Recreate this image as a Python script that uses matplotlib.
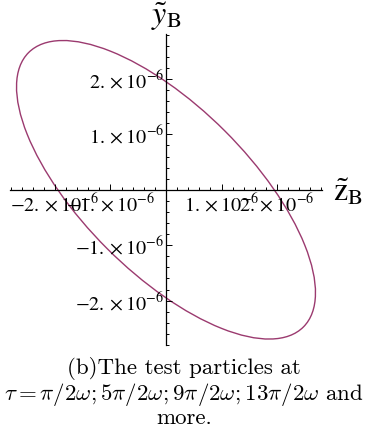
import numpy as np
import matplotlib
matplotlib.use("Agg")
import matplotlib.pyplot as plt
from matplotlib.patches import Ellipse
from matplotlib.ticker import FixedLocator

# orbit of the test particles in the (z_B, y_B) plane
semi_major = 3.50e-6
semi_minor = 1.50e-6
tilt_deg = -45.0
center = (0.0, 0.0)

major_ticks = [-2e-6, -1e-6, 1e-6, 2e-6]
tick_labels = [r"$-2.\times10^{-6}$", r"$-1.\times10^{-6}$",
               r"$1.\times10^{-6}$", r"$2.\times10^{-6}$"]
minor_ticks = np.round(np.arange(-2.8, 2.81, 0.2), 1) * 1e-6

W, H = 368, 433
fig = plt.figure(figsize=(W / 100, H / 100), dpi=100)
ax = fig.add_axes([10 / W, (H - 345) / H, 312 / W, 311 / H])

ax.add_patch(Ellipse(center, 2 * semi_major, 2 * semi_minor, angle=tilt_deg,
                     fill=False, edgecolor="#9b3a6f", linewidth=1.0))

ax.set_xlim(-2.81e-6, 2.81e-6)
ax.set_ylim(-2.80e-6, 2.81e-6)

for s in ("top", "right"):
    ax.spines[s].set_visible(False)
for s in ("left", "bottom"):
    ax.spines[s].set_position(("data", 0))
    ax.spines[s].set_linewidth(0.9)

for axis in (ax.xaxis, ax.yaxis):
    axis.set_major_locator(FixedLocator(major_ticks))
    axis.set_minor_locator(FixedLocator(minor_ticks))
ax.set_xticklabels(tick_labels)
ax.set_yticklabels(tick_labels)

ax.tick_params(which="both", direction="in", width=0.7)
ax.tick_params(which="major", length=4.5)
ax.tick_params(which="minor", length=2.5)
ax.tick_params(axis="x", pad=2.0)
ax.tick_params(axis="y", pad=1.5)
for lab in ax.get_xticklabels() + ax.get_yticklabels():
    lab.set_fontsize(14.5)
    lab.set_math_fontfamily("stix")

# axis names
fig.text(166 / W, 1 - 17 / H, r"$\tilde{y}_{\mathrm{B}}$", fontsize=23,
         ha="center", va="center", math_fontfamily="stix")
fig.text(348 / W, 1 - 192 / H, r"$\tilde{\mathrm{z}}_{\mathrm{B}}$", fontsize=23,
         ha="center", va="center", math_fontfamily="stix")

# caption
cap = dict(ha="center", va="center", fontsize=16.5, family="cmr10",
           math_fontfamily="cm")
fig.text(184 / W, 1 - 368 / H, "(b)The test particles at", **cap)
fig.text(184 / W, 1 - 394 / H,
         r"$\tau = \pi/2\omega; 5\pi/2\omega; 9\pi/2\omega; 13\pi/2\omega$ and",
         **cap)
fig.text(184 / W, 1 - 418 / H, "more.", **cap)

fig.savefig("out.png", dpi=100)
